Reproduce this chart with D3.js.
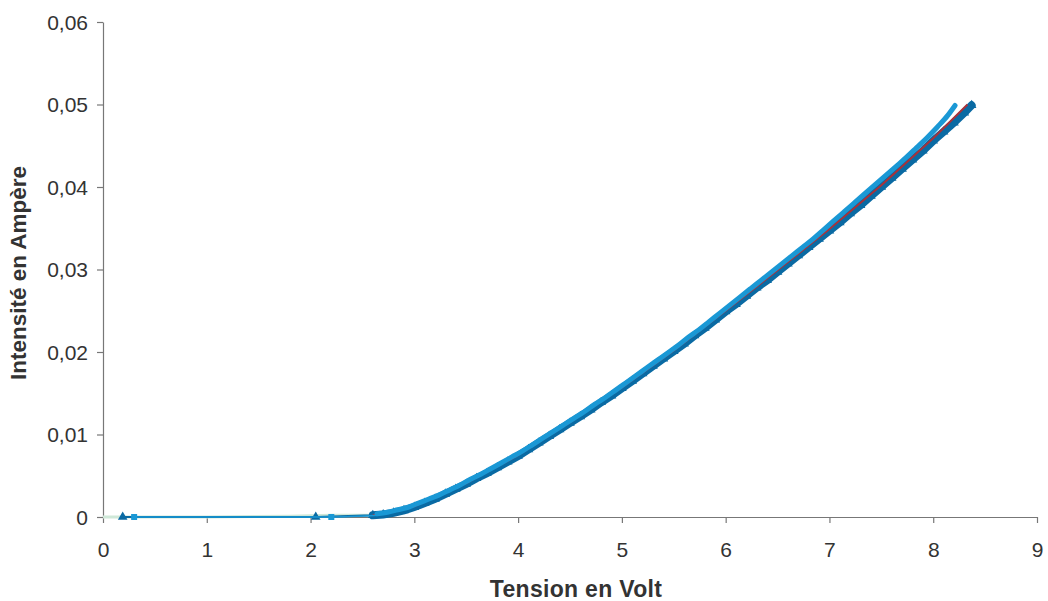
<!DOCTYPE html>
<html><head><meta charset="utf-8">
<script src="https://cdn.jsdelivr.net/npm/d3@7"></script>
<style>body{margin:0;background:#fff}svg{display:block}text{font-family:"Liberation Sans",Arial,sans-serif;fill:#333}</style>
</head><body><svg id="c" width="1048" height="601"></svg>
<script>
const xTicks = [0,1,2,3,4,5,6,7,8,9];
const yTicks = [0,0.01,0.02,0.03,0.04,0.05,0.06];
const xTitle = "Tension en Volt";
const yTitle = "Intensité en Ampère";

const darkV = [0.19,2.05,2.6,2.7,2.8,2.9,3.0,3.1,3.2,3.3,3.4,3.5,3.6,3.7,3.8,3.9,4.0,4.1,4.2,4.3,4.4,4.5,4.6,4.7,4.8,4.9,5.0,5.1,5.2,5.3,5.4,5.5,5.6,5.7,5.8,5.9,6.0,6.1,6.2,6.3,6.4,6.5,6.6,6.7,6.8,6.9,7.0,7.1,7.2,7.3,7.4,7.5,7.6,7.7,7.8,7.9,8.0,8.1,8.2,8.3,8.37];
const darkI = [0,0,0.0002,0.0003,0.0005,0.0008,0.0012,0.0017,0.0022,0.0028,0.0034,0.0040,0.0047,0.0053,0.0060,0.0067,0.0074,0.0082,0.0090,0.0098,0.0106,0.0114,0.0122,0.0130,0.0139,0.0147,0.0156,0.0165,0.0174,0.0183,0.0192,0.0201,0.0210,0.0220,0.0229,0.0239,0.0249,0.0258,0.0268,0.0278,0.0287,0.0297,0.0307,0.0317,0.0327,0.0337,0.0347,0.0357,0.0368,0.0378,0.0389,0.0400,0.0411,0.0422,0.0433,0.0444,0.0456,0.0467,0.0478,0.0490,0.0499];

const lightV = [0.3,2.2,2.65,2.75,2.85,2.95,3.05,3.15,3.25,3.35,3.45,3.55,3.65,3.75,3.85,3.95,4.05,4.15,4.25,4.35,4.45,4.55,4.65,4.75,4.85,4.95,5.05,5.15,5.25,5.35,5.45,5.55,5.65,5.75,5.85,5.95,6.05,6.15,6.25,6.35,6.45,6.55,6.65,6.75,6.85,6.95,7.05,7.15,7.25,7.35,7.45,7.55,7.65,7.75,7.85,7.95,8.05,8.15,8.22];
const lightI = [0,0,0.0002,0.0004,0.0007,0.0010,0.0015,0.0020,0.0025,0.0031,0.0037,0.0044,0.0050,0.0057,0.0064,0.0071,0.0078,0.0086,0.0094,0.0102,0.0110,0.0118,0.0126,0.0135,0.0143,0.0152,0.0161,0.0170,0.0179,0.0188,0.0197,0.0206,0.0216,0.0225,0.0235,0.0245,0.0255,0.0265,0.0275,0.0285,0.0295,0.0305,0.0315,0.0325,0.0335,0.0346,0.0357,0.0368,0.0379,0.0390,0.0401,0.0412,0.0423,0.0434,0.0446,0.0458,0.0471,0.0485,0.0497];

const redV = [2.6,3.0,3.5,4.0,4.5,5.0,5.5,6.0,6.5,7.0,7.5,8.0,8.33];
const redI = [0.0002,0.0013,0.0041,0.0075,0.0115,0.0157,0.0202,0.0250,0.0299,0.0349,0.0402,0.0459,0.0500];

const greenV = [0,1.0,1.8,2.2,2.5,2.7];
const greenI = [0,0,0.0001,0.0002,0.0002,0.0002];

const svg = d3.select("#c");
const x = d3.scaleLinear().domain([0,9]).range([103,1037]);
const y = d3.scaleLinear().domain([0,0.06]).range([517,22]);
const fmt = d => d3.format(".2f")(d).replace(".",",");

const ax = svg.append("g").attr("transform","translate(0,517)")
  .call(d3.axisBottom(x).tickValues(xTicks).tickSize(6).tickSizeOuter(0).tickFormat(d=>d));
const ay = svg.append("g").attr("transform","translate(103,0)")
  .call(d3.axisLeft(y).tickValues(yTicks).tickSize(6).tickSizeOuter(0).tickFormat(d=>d===0?"0":fmt(d)));
[ax,ay].forEach(g=>{
  g.select(".domain").attr("stroke","#777").attr("stroke-width",1.2);
  g.selectAll(".tick line").attr("stroke","#777").attr("stroke-width",1.2);
  g.selectAll(".tick text").attr("font-size",21).attr("fill","#333").style("font-family","'Liberation Sans',Arial,sans-serif");
});
ax.selectAll(".tick text").attr("y",40).attr("dy",0);
ay.selectAll(".tick text").attr("x",-15).attr("dy","0.35em");

const line = d3.line().x(d=>x(d[0])).y(d=>y(d[1]));
const zip = (a,b)=>a.map((v,i)=>[v,b[i]]);
const dark = zip(darkV,darkI), light = zip(lightV,lightI);
const DARK = "#0a6aa3", LIGHT = "#1a98d5";

svg.append("path").datum(zip(greenV,greenI)).attr("d",line).attr("fill","none").attr("stroke","#cfe8d8").attr("stroke-width",3);

svg.append("path").datum(dark).attr("d",line).attr("fill","none").attr("stroke",DARK).attr("stroke-width",2);
svg.append("path").datum(dark.filter(d=>d[0]>=2.6)).attr("d",line).attr("fill","none").attr("stroke",DARK).attr("stroke-width",8).attr("stroke-linecap","round");
const tri = d3.symbol().type(d3.symbolTriangle).size(40);
svg.append("g").selectAll("path").data(dark).join("path")
  .attr("d",tri).attr("transform",d=>`translate(${x(d[0])},${y(d[1])})`).attr("fill",DARK);

svg.append("path").datum(zip(redV,redI)).attr("d",line).attr("fill","none").attr("stroke","#a8323a").attr("stroke-width",2);

svg.append("path").datum(light.filter(d=>d[0]>=2.6)).attr("d",line.curve(d3.curveMonotoneX)).attr("fill","none").attr("stroke",LIGHT).attr("stroke-width",5).attr("stroke-linecap","round")
  .attr("transform","translate(-1,-1.5)");
svg.append("path").datum(light.slice(0,3)).attr("d",line).attr("fill","none").attr("stroke",LIGHT).attr("stroke-width",1.5);
svg.append("g").selectAll("rect").data(light.slice(0,2)).join("rect")
  .attr("x",d=>x(d[0])-3).attr("y",d=>y(d[1])-3).attr("width",6).attr("height",6).attr("fill",LIGHT);

svg.append("text").attr("x",576).attr("y",597).attr("text-anchor","middle")
  .attr("font-size",23).attr("font-weight","bold").attr("letter-spacing","0.3px").text(xTitle);
svg.append("text").attr("transform","translate(26,273) rotate(-90)").attr("text-anchor","middle")
  .attr("font-size",22.5).attr("font-weight","bold").text(yTitle);
</script></body></html>
